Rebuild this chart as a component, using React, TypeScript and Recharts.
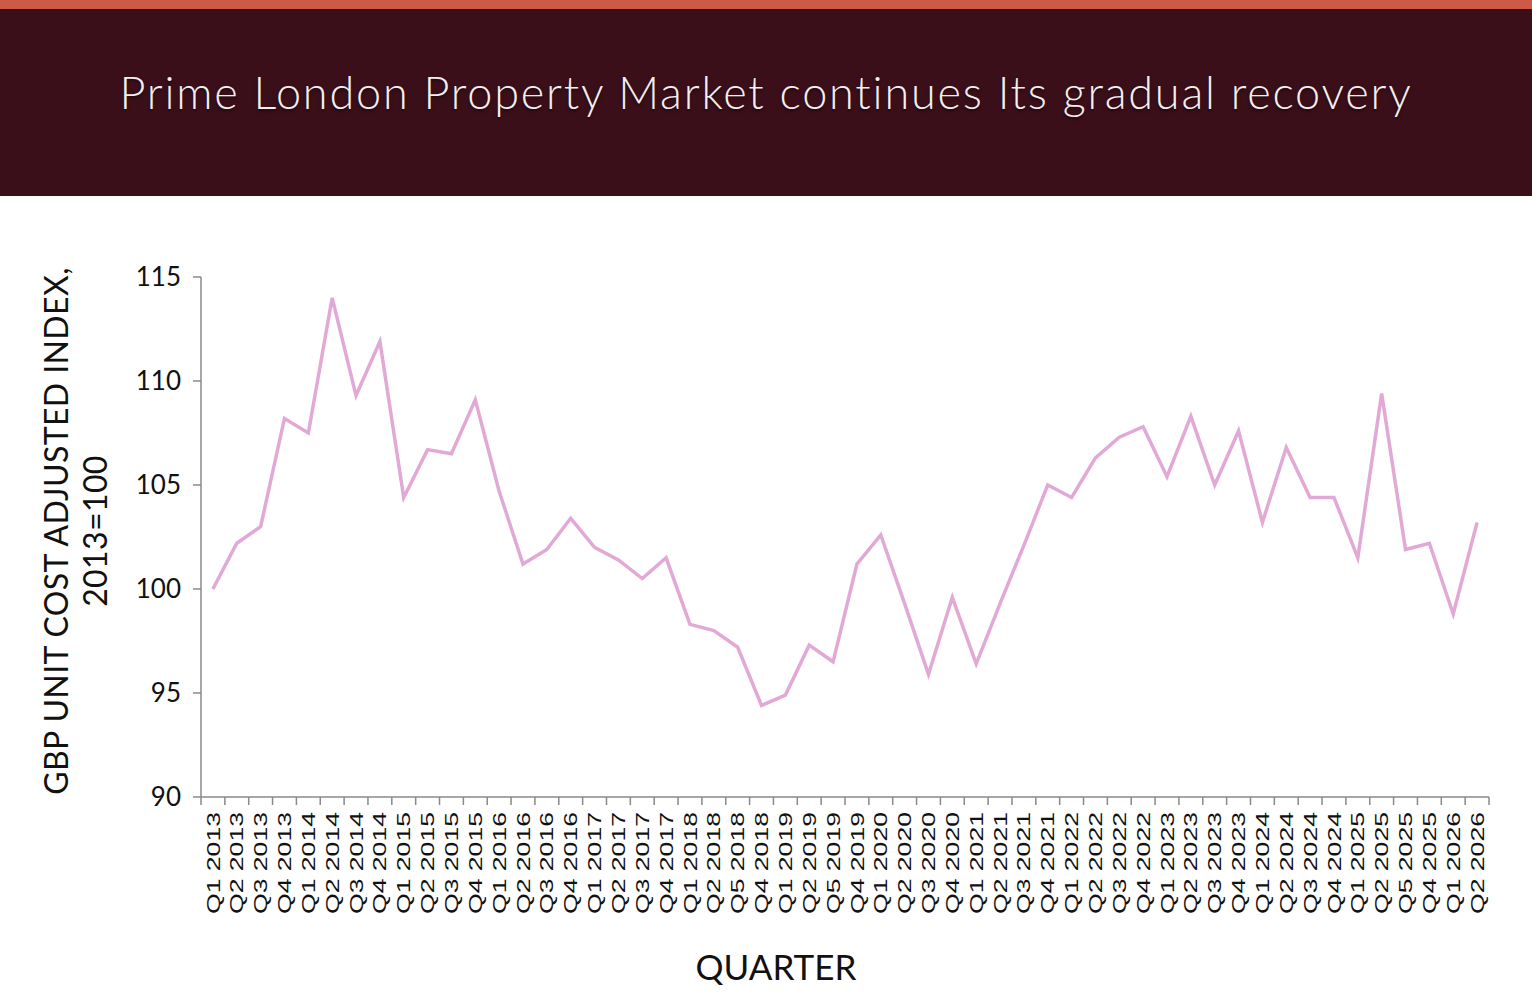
import { Line, LineChart, XAxis, YAxis } from "recharts"

const quarters = [
  "Q1 2013", "Q2 2013", "Q3 2013", "Q4 2013",
  "Q1 2014", "Q2 2014", "Q3 2014", "Q4 2014",
  "Q1 2015", "Q2 2015", "Q3 2015", "Q4 2015",
  "Q1 2016", "Q2 2016", "Q3 2016", "Q4 2016",
  "Q1 2017", "Q2 2017", "Q3 2017", "Q4 2017",
  "Q1 2018", "Q2 2018", "Q5 2018", "Q4 2018",
  "Q1 2019", "Q2 2019", "Q5 2019", "Q4 2019",
  "Q1 2020", "Q2 2020", "Q3 2020", "Q4 2020",
  "Q1 2021", "Q2 2021", "Q3 2021", "Q4 2021",
  "Q1 2022", "Q2 2022", "Q3 2022", "Q4 2022",
  "Q1 2023", "Q2 2023", "Q3 2023", "Q4 2023",
  "Q1 2024", "Q2 2024", "Q3 2024", "Q4 2024",
  "Q1 2025", "Q2 2025", "Q5 2025", "Q4 2025",
  "Q1 2026", "Q2 2026",
]

const indexValues = [
  100.0, 102.2, 103.0, 108.2,
  107.5, 114.0, 109.3, 111.9,
  104.4, 106.7, 106.5, 109.1,
  104.7, 101.2, 101.9, 103.4,
  102.0, 101.4, 100.5, 101.5,
  98.3, 98.0, 97.2, 94.4,
  94.9, 97.3, 96.5, 101.2,
  102.6, 99.3, 95.9, 99.6,
  96.4, 99.3, 102.1, 105.0,
  104.4, 106.3, 107.3, 107.8,
  105.4, 108.3, 105.0, 107.6,
  103.2, 106.8, 104.4, 104.4,
  101.5, 109.4, 101.9, 102.2,
  98.8, 103.2,
]

const yTicks = [90, 95, 100, 105, 110, 115]

const data = quarters.map((quarter, i) => ({ quarter, value: indexValues[i] }))

const CHART_W = 1532
const MARGIN_RIGHT = 43
const Y_AXIS_W = 201
const BAND = (CHART_W - MARGIN_RIGHT - Y_AXIS_W) / quarters.length
const AXIS_COLOR = "#8a8a8a"

function QuarterTick(props: any) {
  const { x, y, payload, index } = props
  return (
    <g>
      <line x1={x - BAND / 2} x2={x - BAND / 2} y1={y} y2={y + 8} stroke={AXIS_COLOR} strokeWidth={1.5} />
      {index === quarters.length - 1 && (
        <line x1={x + BAND / 2} x2={x + BAND / 2} y1={y} y2={y + 8} stroke={AXIS_COLOR} strokeWidth={1.5} />
      )}
      <text
        transform={`translate(${x},${y + 15}) rotate(-90) scale(1.4,1)`}
        textAnchor="end"
        dominantBaseline="central"
        fontFamily="'Liberation Sans', Arial, sans-serif"
        fontSize={19}
        fill="#111"
      >
        {payload.value}
      </text>
    </g>
  )
}

export default function App() {
  return (
    <div style={{ position: "absolute", top: 0, left: 0, width: 1532, height: 1002, background: "#fff" }}>
      <div style={{ height: 9, background: "#cd5a46" }} />
      <div
        style={{
          height: 187,
          boxSizing: "border-box",
          paddingBottom: 22,
          background: "#3b0f1a",
          color: "#f5eef0",
          display: "flex",
          alignItems: "center",
          justifyContent: "center",
          fontFamily: "Lato, sans-serif",
          fontWeight: 300,
          fontSize: 45,
          letterSpacing: 1.8,
          textShadow: "0 2px 3px rgba(0,0,0,0.5)",
        }}
      >
        Prime London Property Market continues Its gradual recovery
      </div>

      <LineChart
        width={CHART_W}
        height={806}
        data={data}
        margin={{ top: 81, right: MARGIN_RIGHT, left: 0, bottom: 0 }}
      >
        <XAxis
          dataKey="quarter"
          interval={0}
          height={205}
          padding={{ left: BAND / 2, right: BAND / 2 }}
          tickSize={0}
          tickMargin={0}
          tickLine={false}
          axisLine={{ stroke: AXIS_COLOR, strokeWidth: 1.5 }}
          tick={<QuarterTick />}
        />
        <YAxis
          width={Y_AXIS_W}
          domain={[90, 115]}
          ticks={yTicks}
          interval={0}
          tickSize={8}
          tickMargin={12}
          axisLine={{ stroke: AXIS_COLOR, strokeWidth: 1.5 }}
          tickLine={{ stroke: AXIS_COLOR, strokeWidth: 1.5 }}
          tick={{ fill: "#111", fontSize: 26, fontFamily: "Lato, sans-serif" }}
        />
        <Line
          dataKey="value"
          type="linear"
          stroke="#e2a9d6"
          strokeWidth={3.5}
          dot={false}
          isAnimationActive={false}
        />
      </LineChart>

      <div
        style={{
          position: "absolute",
          left: 75,
          top: 531,
          transform: "translate(-50%, -50%) rotate(-90deg)",
          textAlign: "center",
          whiteSpace: "nowrap",
          fontFamily: "Lato, sans-serif",
          fontSize: 32,
          letterSpacing: 0.4,
          lineHeight: "39px",
          color: "#111",
        }}
      >
        GBP UNIT COST ADJUSTED INDEX,
        <br />
        2013=100
      </div>

      <div
        style={{
          position: "absolute",
          left: 776,
          top: 966,
          transform: "translate(-50%, -50%)",
          whiteSpace: "nowrap",
          fontFamily: "Lato, sans-serif",
          fontSize: 35,
          color: "#111",
        }}
      >
        QUARTER
      </div>
    </div>
  )
}
